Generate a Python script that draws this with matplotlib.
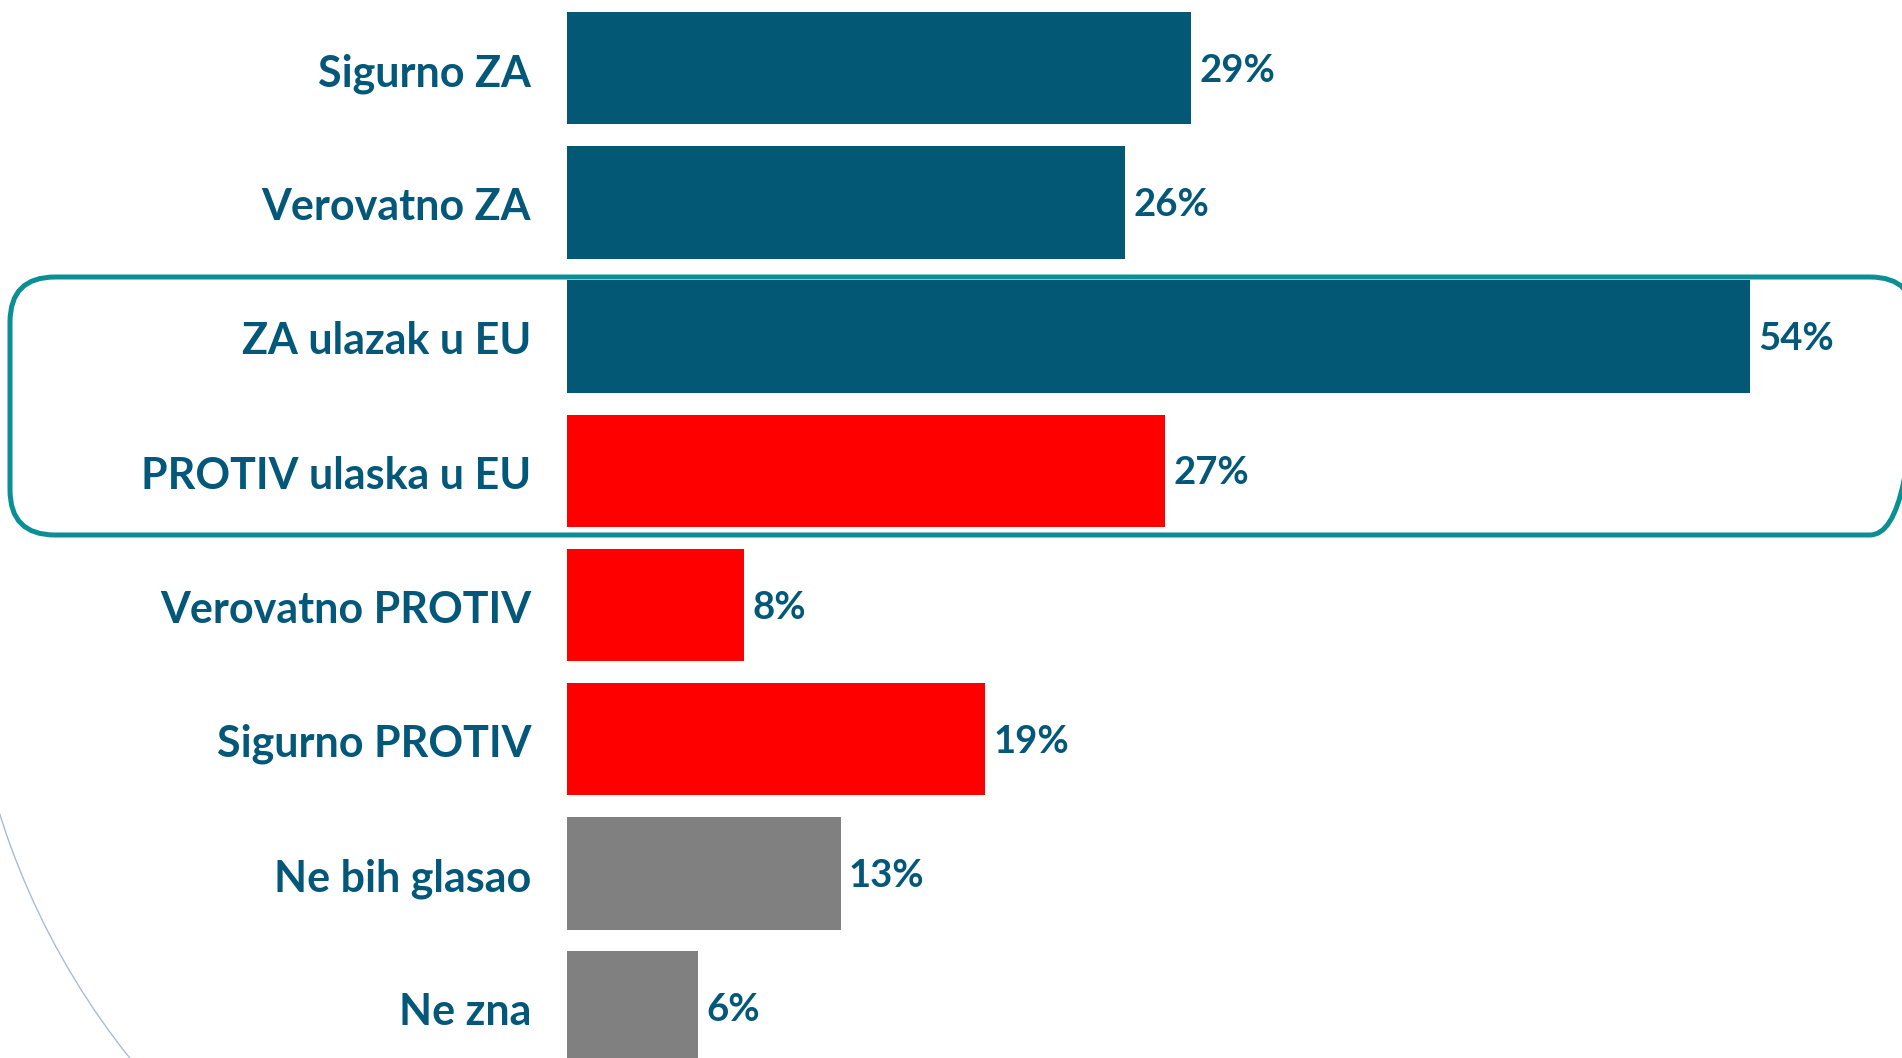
import matplotlib
matplotlib.use("Agg")
import matplotlib.pyplot as plt
from matplotlib.patches import FancyBboxPatch, Arc

# survey answers, top to bottom
categories = ["Sigurno ZA", "Verovatno ZA", "ZA ulazak u EU", "PROTIV ulaska u EU",
              "Verovatno PROTIV", "Sigurno PROTIV", "Ne bih glasao", "Ne zna"]
values = [28.5, 25.5, 54.0, 27.3, 8.1, 19.1, 12.5, 6.0]
value_labels = ["29%", "26%", "54%", "27%", "8%", "19%", "13%", "6%"]
bar_colors = ["#025875", "#025875", "#025875", "#FF0000",
              "#FF0000", "#FF0000", "#808080", "#808080"]

text_color = "#03587A"
box_color = "#0A8F94"

W, H = 1902, 1058
fig = plt.figure(figsize=(W / 100, H / 100), dpi=100)
fig.patch.set_facecolor("white")

# overlay in pixel coords for the rounded box and the faint arc
over = fig.add_axes([0, 0, 1, 1])
over.set_xlim(0, W)
over.set_ylim(H, 0)
over.axis("off")
over.add_patch(FancyBboxPatch((10, 277), 1905, 258,
                              boxstyle="round,pad=0,rounding_size=45",
                              fill=False, edgecolor=box_color, linewidth=3.6))
over.add_patch(Arc((718, 588), 2 * 753, 2 * 753, theta1=130, theta2=190,
                   color="#A9BBD8", linewidth=1.0))

left_px = 566.7
ax = fig.add_axes([left_px / W, 0, 1 - left_px / W, 1])
ax.patch.set_alpha(0)
ax.set_xlim(0, (W - left_px) / 21.91)
ax.set_ylim(7.376, -0.508)
ax.axis("off")

ypos = list(range(len(categories)))
ax.barh(ypos, values, height=0.838, color=bar_colors)

for y, cat, v, lab in zip(ypos, categories, values, value_labels):
    ax.text(-1.62, y + 0.133, cat, ha="right", va="baseline",
            fontsize=31, fontweight="bold", family="Lato", color=text_color)
    ax.annotate(lab, (v, y + 0.102), xytext=(6, 0), textcoords="offset points",
                ha="left", va="baseline", fontsize=27.5, fontweight="bold",
                family="Lato", color=text_color)

fig.savefig("out.png", dpi=100)
